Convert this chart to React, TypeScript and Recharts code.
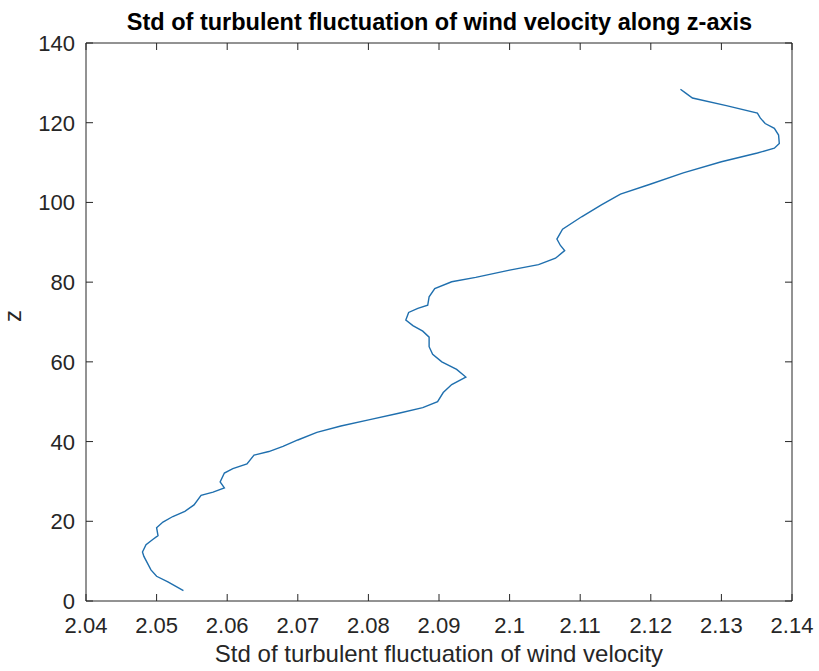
import { ScatterChart, Scatter, XAxis, YAxis, Label } from "recharts";

// std of turbulent fluctuation (x) at each height z (y)
const stdValues = [
  2.0538, 2.0516, 2.05, 2.0492, 2.0482, 2.048, 2.0485, 2.0495, 2.0502, 2.05,
  2.0509, 2.0523, 2.054, 2.0553, 2.0563, 2.058, 2.0596, 2.059, 2.0596, 2.0608,
  2.0628, 2.0638, 2.0659, 2.0679, 2.07, 2.0727, 2.0761, 2.0802, 2.0843, 2.0877,
  2.0898, 2.0906, 2.0918, 2.0938, 2.0925, 2.0904, 2.0891, 2.0886, 2.0886, 2.0877,
  2.0863, 2.0853, 2.0857, 2.087, 2.0884, 2.0886, 2.0894, 2.0918, 2.0952, 2.1,
  2.1041, 2.1065, 2.1078, 2.1072, 2.1067, 2.1075, 2.1102, 2.113, 2.1157, 2.1198,
  2.1246, 2.13, 2.1351, 2.1375, 2.1382, 2.1381, 2.1375, 2.1362, 2.1355, 2.1351,
  2.1307, 2.1259, 2.1249, 2.1242,
];
const zValues = [
  2.6, 4.8, 6.2, 7.8, 11.2, 12.3, 14.1, 15.5, 16.4, 18.4,
  19.8, 21.2, 22.5, 24.1, 26.5, 27.3, 28.4, 29.9, 32.1, 33.2,
  34.4, 36.6, 37.5, 38.8, 40.4, 42.3, 43.9, 45.5, 47.1, 48.5,
  50.0, 52.3, 54.3, 56.2, 58.1, 60.0, 61.9, 63.8, 66.2, 67.7,
  69.1, 70.5, 72.4, 73.4, 74.2, 76.3, 78.4, 80.1, 81.2, 83.0,
  84.4, 86.0, 87.9, 89.2, 90.8, 93.3, 96.4, 99.4, 102.1, 104.5,
  107.4, 110.2, 112.4, 113.6, 114.8, 116.9, 118.6, 119.8, 121.2, 122.4,
  124.3, 126.2, 127.5, 128.4,
];
const xTicks = [2.04, 2.05, 2.06, 2.07, 2.08, 2.09, 2.1, 2.11, 2.12, 2.13, 2.14];
const yTicks = [0, 20, 40, 60, 80, 100, 120, 140];

const points = stdValues.map((s, i) => ({ std: s, z: zValues[i] }));

const FONT = "'Liberation Sans', Arial, Helvetica, sans-serif";
const AXIS = "#262626";
const TICK_LEN = 7;
const fmt = (v: number) => String(Math.round(v * 100) / 100);

// matlab style: tick marks point into the plot box
const BottomTick = (p: any) => (
  <g>
    <line x1={p.x} y1={p.y} x2={p.x} y2={p.y - TICK_LEN} stroke={AXIS} />
    <text x={p.x} y={p.y + 32} textAnchor="middle" fill={AXIS} fontSize={22} fontFamily={FONT}>
      {fmt(p.payload.value)}
    </text>
  </g>
);
const LeftTick = (p: any) => (
  <g>
    <line x1={p.x} y1={p.y} x2={p.x + TICK_LEN} y2={p.y} stroke={AXIS} />
    <text x={p.x - 11} y={p.y + 8} textAnchor="end" fill={AXIS} fontSize={22} fontFamily={FONT}>
      {p.payload.value}
    </text>
  </g>
);
const TopTick = (p: any) => <line x1={p.x} y1={p.y} x2={p.x} y2={p.y + TICK_LEN} stroke={AXIS} />;
const RightTick = (p: any) => <line x1={p.x} y1={p.y} x2={p.x - TICK_LEN} y2={p.y} stroke={AXIS} />;

export default function App() {
  return (
    <div style={{ position: "absolute", left: 0, top: 0, width: 819, height: 671, background: "#fff", fontFamily: FONT }}>
      <div
        style={{
          position: "absolute",
          left: 86,
          width: 707,
          top: 8,
          textAlign: "center",
          fontWeight: "bold",
          fontSize: 23.5,
          lineHeight: "28px",
          color: "#000",
          whiteSpace: "nowrap",
        }}
      >
        Std of turbulent fluctuation of wind velocity along z-axis
      </div>
      <ScatterChart width={819} height={671} margin={{ top: 42, right: 26, bottom: 0, left: 0 }}>
        <XAxis
          xAxisId="b"
          type="number"
          dataKey="std"
          domain={[2.04, 2.14]}
          ticks={xTicks}
          allowDataOverflow
          height={70}
          stroke={AXIS}
          tickSize={0}
          tickMargin={0}
          tickLine={false}
          tick={BottomTick}
          interval={0}
        >
          <Label value="Std of turbulent fluctuation of wind velocity" position="insideBottom" offset={9} fill={AXIS} fontSize={24} fontFamily={FONT} />
        </XAxis>
        <XAxis
          xAxisId="t"
          orientation="top"
          type="number"
          dataKey="std"
          domain={[2.04, 2.14]}
          ticks={xTicks}
          allowDataOverflow
          height={1}
          stroke={AXIS}
          tickSize={0}
          tickMargin={0}
          tickLine={false}
          tick={TopTick}
          interval={0}
        />
        <YAxis
          yAxisId="l"
          type="number"
          dataKey="z"
          domain={[0, 140]}
          ticks={yTicks}
          allowDataOverflow
          width={86}
          stroke={AXIS}
          tickSize={0}
          tickMargin={0}
          tickLine={false}
          tick={LeftTick}
          interval={0}
        >
          <Label value="z" angle={-90} position="insideLeft" offset={12} fill={AXIS} fontSize={24} fontFamily={FONT} />
        </YAxis>
        <YAxis
          yAxisId="r"
          orientation="right"
          type="number"
          dataKey="z"
          domain={[0, 140]}
          ticks={yTicks}
          allowDataOverflow
          width={1}
          stroke={AXIS}
          tickSize={0}
          tickMargin={0}
          tickLine={false}
          tick={RightTick}
          interval={0}
        />
        <Scatter
          xAxisId="t"
          yAxisId="r"
          data={points}
          shape={() => <g />}
          isAnimationActive={false}
        />
        <Scatter
          xAxisId="b"
          yAxisId="l"
          data={points}
          line={{ stroke: "#1f6fae", strokeWidth: 1.4 }}
          lineType="joint"
          shape={() => <g />}
          isAnimationActive={false}
        />
      </ScatterChart>
    </div>
  );
}
